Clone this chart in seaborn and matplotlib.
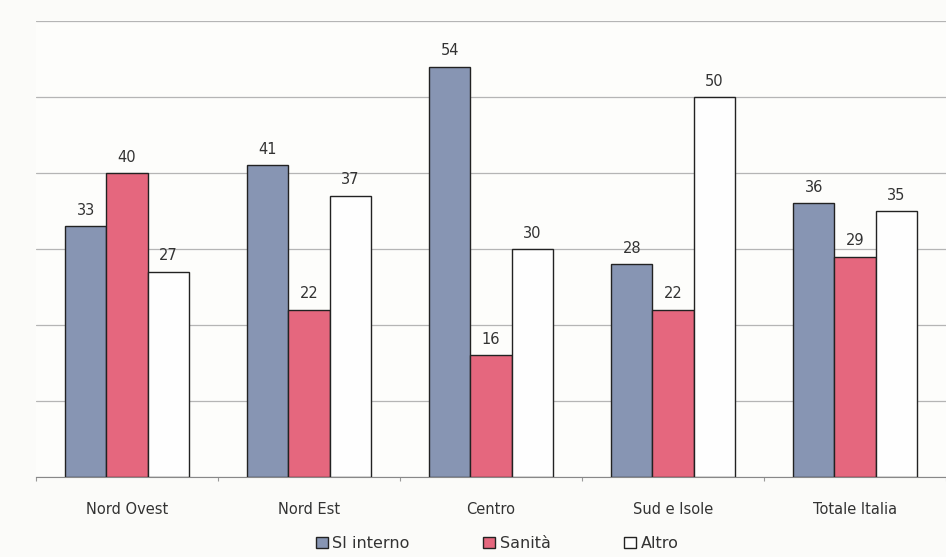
import matplotlib
matplotlib.use("Agg")
import matplotlib.pyplot as plt
import seaborn as sns
import pandas as pd

categories = ["Nord Ovest", "Nord Est", "Centro", "Sud e Isole", "Totale Italia"]
series = ["SI interno", "Sanità", "Altro"]
si_interno = [33, 41, 54, 28, 36]
sanita = [40, 22, 16, 22, 29]
altro = [27, 37, 30, 50, 35]

rows = []
for s, vals in zip(series, [si_interno, sanita, altro]):
    for c, v in zip(categories, vals):
        rows.append({"Area": c, "Serie": s, "Valore": v})
df = pd.DataFrame(rows)

sns.set_style("white")
plt.rcParams['font.family'] = ['DejaVu Sans']

fig = plt.figure(figsize=(9.46, 5.57), dpi=100, facecolor="#fbfbf9")
ax = fig.add_axes([0.038, 0.1436, 0.962, 0.8187])
ax.set_facecolor("#fdfdfb")

palette = {"SI interno": "#8795b3", "Sanità": "#e5677e", "Altro": "#fefefe"}
sns.barplot(data=df, x="Area", y="Valore", hue="Serie", order=categories,
            hue_order=series, palette=palette, width=0.68, edgecolor="#222222",
            linewidth=1.0, saturation=1, ax=ax, legend=True, zorder=3)

for cont in ax.containers:
    ax.bar_label(cont, padding=6, fontsize=10.5, color="#333333")

ax.set_ylim(0, 60)
ax.set_yticks(range(0, 61, 10))
ax.yaxis.grid(True, color="#b5b5b5", linewidth=0.9, zorder=0)
ax.set_axisbelow(True)
ax.tick_params(axis="y", left=False, labelleft=False)
ax.set_xticks([i + 0.5 for i in range(-1, 5)], minor=True)
ax.tick_params(axis="x", which="major", length=0, pad=18, labelsize=10.5, labelcolor="#333333")
ax.tick_params(axis="x", which="minor", bottom=True, length=3, width=0.8, color="#999999", direction="out")
ax.set_xlabel("")
ax.set_ylabel("")
for sp in ["top", "right", "left"]:
    ax.spines[sp].set_visible(False)
ax.spines["bottom"].set_color("#888888")

handles, labels = ax.get_legend_handles_labels()
ax.legend(handles, labels, loc="upper center", bbox_to_anchor=(0.507, -0.098),
          ncol=3, frameon=False, fontsize=11.5, handlelength=0.75, handleheight=0.75,
          handletextpad=0.3, columnspacing=4.6, labelcolor="#333333")

fig.savefig("out.png", dpi=100, facecolor=fig.get_facecolor())
